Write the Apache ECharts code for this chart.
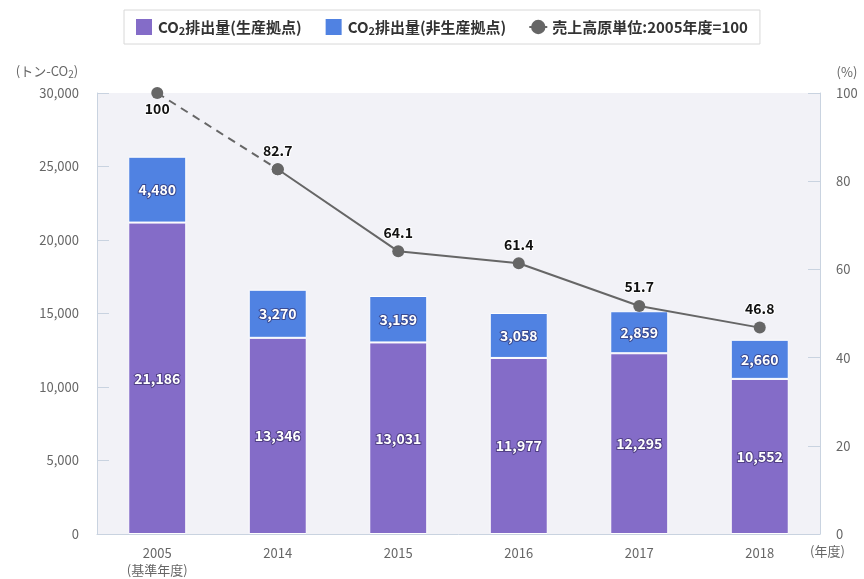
<!DOCTYPE html>
<html>
<head>
<meta charset="utf-8">
<script src="https://cdn.jsdelivr.net/npm/echarts@6/dist/echarts.min.js"></script>
<style>
  html, body { margin: 0; padding: 0; background: #fff; }
  #chart { width: 864px; height: 579px; }
</style>
</head>
<body>
<div id="chart"></div>
<script>
  // 年度
  var years = ['2005\n(基準年度)', '2014', '2015', '2016', '2017', '2018']
  // CO2排出量(生産拠点)
  var production = [21186, 13346, 13031, 11977, 12295, 10552]
  // CO2排出量(非生産拠点)
  var nonProduction = [4480, 3270, 3159, 3058, 2859, 2660]
  // 売上高原単位:2005年度=100
  var ratio = [100, 82.7, 64.1, 61.4, 51.7, 46.8]

  var font = 'Noto Sans CJK JP'
  var subRich = {
    sub: { fontSize: 11, verticalAlign: 'bottom', padding: [7, 0, 0, 0], fontFamily: font, fontWeight: 'bold', color: '#333' }
  }

  var barLabel = {
    show: true,
    position: 'inside',
    color: '#fff',
    fontWeight: 'bold',
    fontSize: 14,
    fontFamily: font,
    textBorderColor: 'rgba(40,30,80,0.55)',
    textBorderWidth: 2,
    formatter: function (p) { return p.value.toLocaleString('en-US') }
  }

  var lineLabel = {
    show: true,
    position: 'top',
    distance: 6,
    color: '#111',
    fontWeight: 'bold',
    fontSize: 14,
    fontFamily: font,
    textBorderColor: '#fff',
    textBorderWidth: 2
  }

  var chart = echarts.init(document.getElementById('chart'))
  chart.setOption({
    animation: false,
    textStyle: { fontFamily: font },
    legend: {
      left: 124,
      top: 10,
      padding: [7, 12, 7, 10],
      itemGap: 22,
      itemWidth: 18,
      itemHeight: 18,
      borderColor: '#d8d8d8',
      borderWidth: 1,
      data: [
        { name: 'CO2排出量(生産拠点)', icon: 'rect' },
        { name: 'CO2排出量(非生産拠点)', icon: 'rect' },
        { name: '売上高原単位:2005年度=100' }
      ],
      formatter: function (name) {
        return name.replace('CO2', 'CO{sub|2}')
      },
      textStyle: {
        color: '#333',
        fontSize: 15,
        fontWeight: 'bold',
        fontFamily: font,
        rich: subRich
      }
    },
    grid: {
      left: 97,
      right: 44,
      top: 93,
      bottom: 45,
      show: true,
      backgroundColor: '#f2f2f7',
      borderWidth: 0
    },
    xAxis: {
      type: 'category',
      data: years,
      name: '(年度)',
      nameLocation: 'end',
      nameGap: -10,
      nameTextStyle: { color: '#666', fontSize: 13, verticalAlign: 'top', padding: [11, 0, 0, 0] },
      axisLine: { lineStyle: { color: '#c9d3e0' } },
      axisTick: { inside: true, length: 12, lineStyle: { color: '#c9d3e0' } },
      axisLabel: { color: '#666', fontSize: 13, margin: 11, lineHeight: 17 }
    },
    yAxis: [
      {
        type: 'value',
        min: 0,
        max: 30000,
        interval: 5000,
        name: '(トン-CO{sub|2})',
        nameGap: 14,
        nameTextStyle: {
          color: '#666', fontSize: 13, padding: [0, 100, 0, 0],
          rich: { sub: { fontSize: 10, color: '#666', verticalAlign: 'bottom', padding: [6, 0, 0, 0] } }
        },
        axisLine: { show: true, lineStyle: { color: '#c9d3e0' } },
        axisTick: { show: true, inside: true, length: 12, lineStyle: { color: '#c9d3e0' } },
        splitLine: { show: false },
        axisLabel: {
          color: '#666', fontSize: 13, margin: 18,
          formatter: function (v) { return v.toLocaleString('en-US') }
        }
      },
      {
        type: 'value',
        min: 0,
        max: 100,
        interval: 20,
        name: '(%)',
        nameGap: 14,
        nameTextStyle: { color: '#666', fontSize: 13, padding: [0, 0, 0, 54] },
        axisLine: { show: true, lineStyle: { color: '#c9d3e0' } },
        axisTick: { show: true, inside: true, length: 12, lineStyle: { color: '#c9d3e0' } },
        splitLine: { show: false },
        axisLabel: { color: '#666', fontSize: 13, margin: 16 }
      }
    ],
    series: [
      {
        name: 'CO2排出量(生産拠点)',
        type: 'bar',
        stack: 'co2',
        barWidth: 58,
        data: production,
        itemStyle: { color: '#846cc8', borderColor: '#fff', borderWidth: 1 },
        label: barLabel
      },
      {
        name: 'CO2排出量(非生産拠点)',
        type: 'bar',
        stack: 'co2',
        barWidth: 58,
        data: nonProduction,
        itemStyle: { color: '#5082e2', borderColor: '#fff', borderWidth: 1 },
        label: barLabel
      },
      {
        name: '売上高原単位(基準)',
        type: 'line',
        yAxisIndex: 1,
        data: ratio.map(function (v, i) { return i <= 1 ? v : '-' }),
        symbol: 'circle',
        symbolSize: 12,
        lineStyle: { color: '#666', width: 2, type: [8, 6] },
        itemStyle: { color: '#666' },
        label: Object.assign({}, lineLabel, {
          position: 'bottom',
          distance: 3,
          formatter: function (p) { return p.dataIndex === 0 ? p.value : '' }
        }),
        z: 5
      },
      {
        name: '売上高原単位:2005年度=100',
        type: 'line',
        yAxisIndex: 1,
        data: ratio.map(function (v, i) { return i >= 1 ? v : '-' }),
        symbol: 'circle',
        symbolSize: 12,
        lineStyle: { color: '#666', width: 2 },
        itemStyle: { color: '#666' },
        label: lineLabel,
        z: 5
      }
    ]
  })
</script>
</body>
</html>
